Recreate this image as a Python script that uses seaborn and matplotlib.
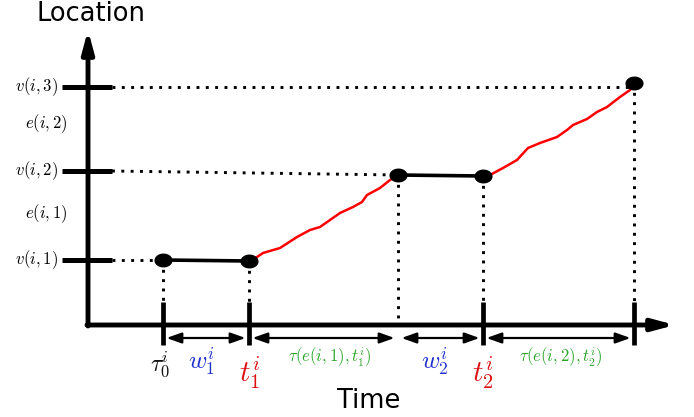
import numpy as np
import pandas as pd
import matplotlib
matplotlib.use("Agg")
import matplotlib.pyplot as plt
from matplotlib.path import Path
import seaborn as sns

# Event times along the time axis (tau_0, t_1 start wait end, arrive v2, leave v2, arrive v3)
event_time = [75, 161, 310, 395, 546]
event_loc = [65, 64, 150, 149, 242]

# Location levels on the vertical axis
level_loc = [65, 154, 238]
level_labels = [r"$v(i,1)$", r"$v(i,2)$", r"$v(i,3)$"]
edge_loc = [111, 201]
edge_labels = [r"$e(i,1)$", r"$e(i,2)$"]

# Travel curves
travel1_t = [161, 169, 175, 192, 209, 222, 232, 242, 252, 265, 274, 279, 292, 302, 310]
travel1_loc = [64, 68, 72, 77, 88, 95, 98, 105, 112, 118, 123, 130, 137, 145, 150]
travel2_t = [395, 402, 415, 429, 440, 452, 469, 479, 485, 499, 509, 519, 532, 542, 546]
travel2_loc = [149, 150, 157, 165, 177, 182, 188, 195, 200, 206, 213, 218, 228, 235, 242]

# Which event times get a solid tick on the time axis
tick_events = [0, 1, 3, 4]

sns.set_theme(style="white")
plt.rcParams["mathtext.fontset"] = "cm"
plt.rcParams["font.family"] = ["DejaVu Sans"]
plt.rcParams["text.color"] = "black"

fig = plt.figure(figsize=(6.94, 4.17), dpi=100)
ax = fig.add_axes([0, 0, 1, 1])
ax.set_xlim(-88, 606)
ax.set_ylim(-92, 325)
ax.axis("off")

# axes with arrow heads
axis_arrow = dict(arrowstyle="-|>,head_length=1.3,head_width=0.35", mutation_scale=10,
                  lw=3.5, color="black", shrinkA=0, shrinkB=0)
ax.annotate("", xy=(0, 295), xytext=(0, -1), arrowprops=axis_arrow)
ax.annotate("", xy=(587, 0), xytext=(-1, 0), arrowprops=axis_arrow)

# location ticks + labels
for loc, lab in zip(level_loc, level_labels):
    ax.plot([-26, 24], [loc, loc], color="black", lw=3.6, solid_capstyle="butt")
    ax.text(-30, loc, lab, ha="right", va="center", fontsize=12)
for loc, lab in zip(edge_loc, edge_labels):
    ax.text(-42, loc, lab, ha="center", va="center", fontsize=12)

# dotted guides from level ticks to the events
dot = dict(color="black", lw=2.1, linestyle=(0, (1, 2.2)))
ax.plot([24, event_time[0]], [level_loc[0], event_loc[0]], **dot)
ax.plot([24, event_time[2]], [level_loc[1], event_loc[2]], **dot)
ax.plot([24, event_time[4]], [level_loc[2], level_loc[2]], **dot)
for t, loc in zip(event_time, event_loc):
    ax.plot([t, t], [loc, 4], **dot)

# ticks on time axis
for i in tick_events:
    ax.plot([event_time[i], event_time[i]], [-20, 23], color="black", lw=3.4,
            solid_capstyle="butt")

# double arrows for durations
dur_arrow = dict(arrowstyle="<|-|>,head_length=0.9,head_width=0.32", mutation_scale=10,
                 lw=1.6, color="black", shrinkA=2.5, shrinkB=2.5)
for a, b in zip(event_time[:-1], event_time[1:]):
    ax.annotate("", xy=(b, -13), xytext=(a, -13), arrowprops=dur_arrow)

# waiting segments
ax.plot(event_time[0:2], event_loc[0:2], color="black", lw=2.6)
ax.plot(event_time[2:4], event_loc[2:4], color="black", lw=2.6)

# travel curves
travel = pd.DataFrame({
    "time": travel1_t + travel2_t,
    "loc": travel1_loc + travel2_loc,
    "leg": ["e1"] * len(travel1_t) + ["e2"] * len(travel2_t),
})
sns.lineplot(data=travel, x="time", y="loc", units="leg", estimator=None,
             sort=False, color="red", lw=1.8, ax=ax)

# event points (slightly wide ellipses)
th = np.linspace(0, 2 * np.pi, 60)
ellipse = Path(np.column_stack([1.3 * np.cos(th), np.sin(th)]))
sns.scatterplot(x=event_time, y=event_loc, marker=ellipse, s=170,
                color="black", edgecolor="black", linewidth=0, zorder=5, ax=ax)

# labels under the time axis
ax.text(72, -40, r"$\tau_0^i$", ha="center", va="center", fontsize=17, color="#111111")
ax.text(114, -37, r"$w_1^i$", ha="center", va="center", fontsize=18, color="#1f2fd0")
ax.text(162, -48, r"$t_1^i$", ha="center", va="center", fontsize=21, color="#dd1111")
ax.text(242, -32, r"$\tau(e(i,1),t_1^i)$", ha="center", va="center", fontsize=12, color="#2aa52a")
ax.text(347, -37, r"$w_2^i$", ha="center", va="center", fontsize=18, color="#1f2fd0")
ax.text(395, -48, r"$t_2^i$", ha="center", va="center", fontsize=21, color="#dd1111")
ax.text(473, -32, r"$\tau(e(i,2),t_2^i)$", ha="center", va="center", fontsize=12, color="#2aa52a")

ax.text(281, -76, "Time", ha="center", va="center", fontsize=18.5)
ax.text(3, 311, "Location", ha="center", va="center", fontsize=18.5)

fig.savefig("out.png", dpi=100)
